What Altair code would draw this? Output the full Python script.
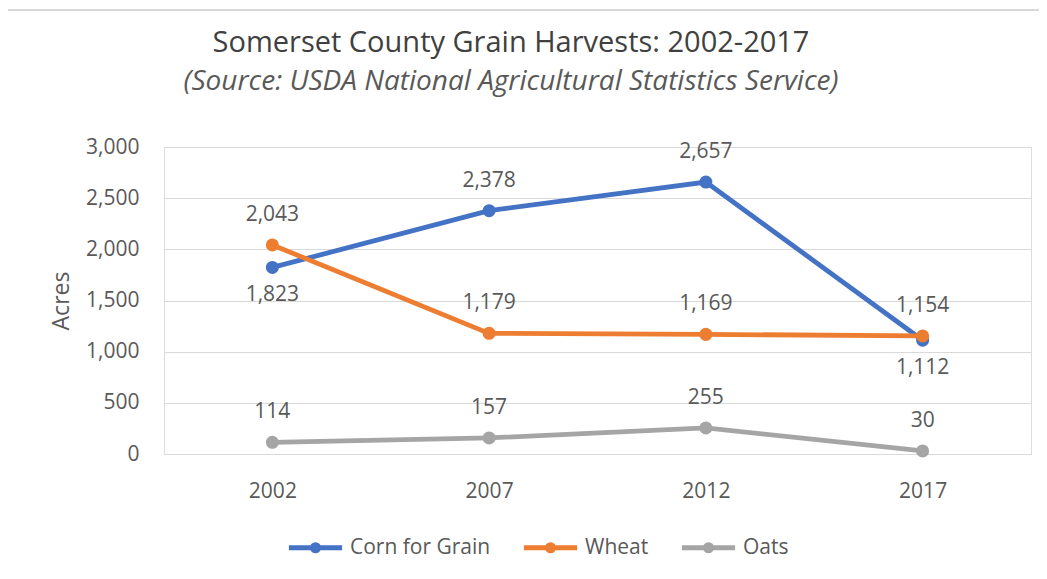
import altair as alt
import pandas as pd

years = ["2002", "2007", "2012", "2017"]
series = ["Corn for Grain", "Wheat", "Oats"]
corn = [1823, 2378, 2657, 1112]
wheat = [2043, 1179, 1169, 1154]
oats = [114, 157, 255, 30]
corn_label_side = ["below", "above", "above", "below"]
wheat_label_side = ["above", "above", "above", "above"]
oats_label_side = ["above", "above", "above", "above"]
colors = ["#4472C4", "#ED7D31", "#A5A5A5"]
y_ticks = [0, 500, 1000, 1500, 2000, 2500, 3000]
title_text = "Somerset County Grain Harvests: 2002-2017"
subtitle_text = "(Source: USDA National Agricultural Statistics Service)"

rows = []
for name, vals, sides in zip(series, [corn, wheat, oats],
                             [corn_label_side, wheat_label_side, oats_label_side]):
    for yr, v, s in zip(years, vals, sides):
        rows.append({"Year": yr, "Series": name, "Acres": v, "Side": s})
df = pd.DataFrame(rows)

FONT = "Open Sans"
TXT = "#595959"
FS = 21

x_enc = alt.X("Year:O", sort=years, title=None,
              scale=alt.Scale(type="point", padding=0.5),
              axis=alt.Axis(labelAngle=0, domain=False, ticks=False, grid=False,
                            labelPadding=26, labelFontSize=FS, labelColor=TXT,
                            labelFont=FONT))
y_enc = alt.Y("Acres:Q", title="Acres",
              scale=alt.Scale(domain=[0, 3000], nice=False),
              axis=alt.Axis(values=y_ticks, format=",.0f", domain=False, ticks=False,
                            grid=True, gridColor="#D9D9D9", gridWidth=1,
                            labelPadding=25, labelFontSize=FS, labelColor=TXT,
                            labelFont=FONT, titleFont=FONT, titleFontSize=23,
                            titleColor=TXT, titleFontWeight="normal",
                            titlePadding=12))

legend_path = ("M-0.95,0H0.95M-0.11,0A0.11,0.11,0,1,0,0.11,0"
               "A0.11,0.11,0,1,0,-0.11,0")
color_scale = alt.Scale(domain=series, range=colors)

base = alt.Chart(df)
one = alt.Data(values=[{"a": 1}])

border_top = alt.Chart(one).mark_rule(color="#D9D9D9", strokeWidth=2).encode(
    x=alt.value(-158), x2=alt.value(900), y=alt.value(-137))
border_left = alt.Chart(one).mark_rule(color="#D9D9D9", strokeWidth=2).encode(
    x=alt.value(-157), y=alt.value(-138), y2=alt.value(420))

title_mark = alt.Chart(one).mark_text(
    text=title_text, font=FONT, fontSize=29, color="#404040",
    align="center", baseline="alphabetic"
).encode(x=alt.value(347), y=alt.value(-95))
subtitle_mark = alt.Chart(one).mark_text(
    text=subtitle_text, font=FONT, fontSize=28, fontStyle="italic", color=TXT,
    align="center", baseline="alphabetic"
).encode(x=alt.value(347), y=alt.value(-57))

lines = base.mark_line(strokeWidth=4.8).encode(
    x=x_enc, y=y_enc,
    color=alt.Color("Series:N", scale=color_scale, sort=series,
                    legend=alt.Legend(title=None, orient="none", direction="horizontal",
                                      legendX=121, legendY=370,
                                      symbolType=legend_path, symbolSize=3136,
                                      symbolStrokeWidth=5, labelFontSize=FS,
                                      labelColor=TXT, labelFont=FONT,
                                      columnPadding=22, labelOffset=4)),
    detail="Series:N",
)

points = base.mark_point(filled=True, size=170, opacity=1).encode(
    x=x_enc, y=y_enc,
    color=alt.Color("Series:N", scale=color_scale, legend=None),
)

labels_above = base.transform_filter(alt.datum.Side == "above").mark_text(
    dy=-30, fontSize=FS, font=FONT, color=TXT, baseline="middle"
).encode(x=x_enc, y=y_enc, text=alt.Text("Acres:Q", format=","))

labels_below = base.transform_filter(alt.datum.Side == "below").mark_text(
    dy=28, fontSize=FS, font=FONT, color=TXT, baseline="middle"
).encode(x=x_enc, y=y_enc, text=alt.Text("Acres:Q", format=","))

chart = alt.layer(border_top, border_left, title_mark, subtitle_mark,
                  lines, points, labels_above, labels_below).properties(
    width=867, height=307,
    autosize=alt.AutoSizeParams(type="none"),
    padding={"left": 156, "top": 139, "right": 8, "bottom": 116},
).configure_view(stroke=None).configure(background="white")

chart.save("out.html", embed_options={"renderer": "svg", "actions": False})
